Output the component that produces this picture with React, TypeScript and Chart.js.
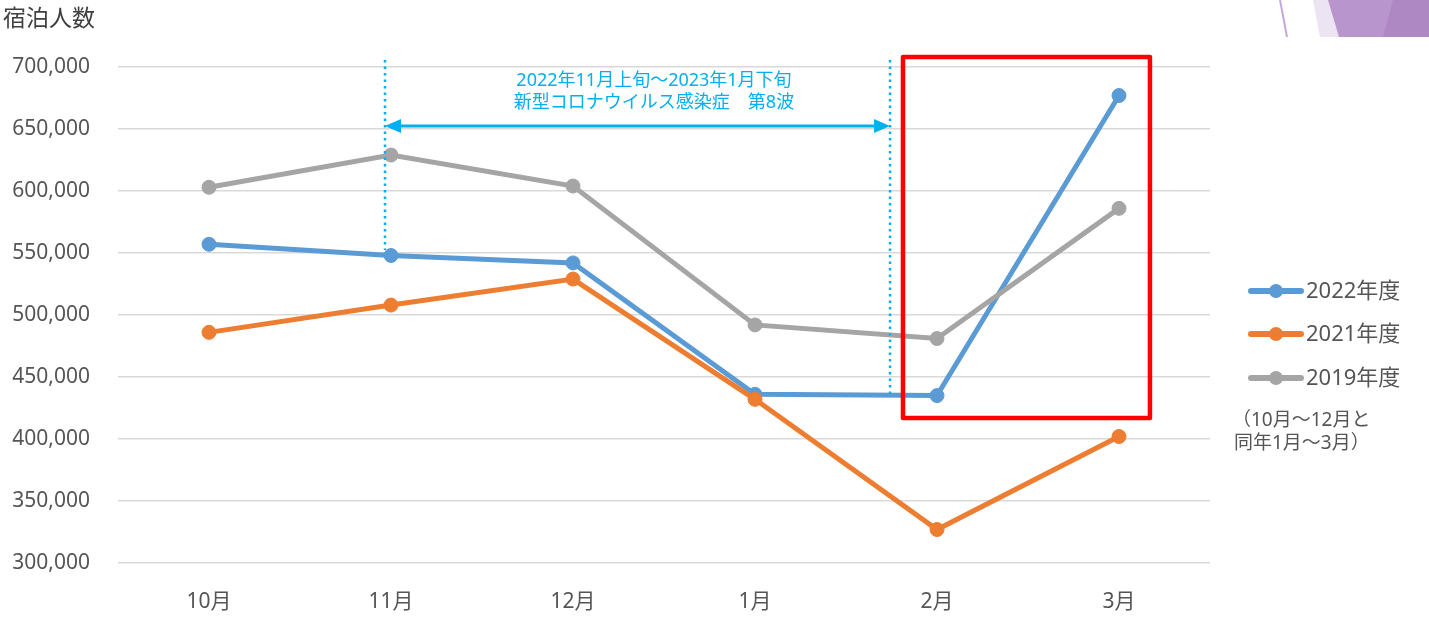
import React, { useEffect, useRef } from "react";
import { Chart, registerables } from "chart.js";

Chart.register(...registerables);

// ---- data ----
const months = ["10月", "11月", "12月", "1月", "2月", "3月"];
const fy2022 = [557000, 548000, 542000, 436000, 435000, 677000];
const fy2021 = [486000, 508000, 529000, 432000, 327000, 402000];
const fy2019 = [603000, 629000, 604000, 492000, 481000, 586000];
const seriesLabels = ["2022年度", "2021年度", "2019年度"];
const seriesColors = ["#5B9BD5", "#ED7D31", "#A5A5A5"];
const yMin = 300000;
const yMax = 700000;
const yStep = 50000;
const yTitle = "宿泊人数";
const waveText = ["2022年11月上旬～2023年1月下旬", "新型コロナウイルス感染症　第8波"];
const noteText = ["（10月～12月と", "同年1月～3月）"];

// annotation anchors in data units (category index, value)
const waveStartX = 0.967;
const waveEndX = 3.742;
const waveTopY = 705600;
const waveStartBottomY = 552400;
const waveEndBottomY = 433900;
const arrowY = 652400;
const waveTextX = 2.445;
const waveTextY = [688700, 671000];
const boxX = [3.813, 5.17];
const boxY = [708000, 416900];

const FONT = "'Noto Sans', 'Noto Sans CJK JP', sans-serif";
const TEXT = "#555555";
const CYAN = "#00B0F0";

const overlayPlugin = {
  id: "overlay",
  afterDatasetsDraw(chart: any) {
    const ctx = chart.ctx as CanvasRenderingContext2D;
    const xs = chart.scales.x;
    const ys = chart.scales.y;
    const px = (v: number) => xs.getPixelForValue(v);
    const py = (v: number) => ys.getPixelForValue(v);
    ctx.save();
    // dotted verticals
    ctx.strokeStyle = CYAN;
    ctx.lineWidth = 2.5;
    ctx.setLineDash([2.5, 4]);
    ctx.beginPath();
    ctx.moveTo(px(waveStartX), py(waveTopY));
    ctx.lineTo(px(waveStartX), py(waveStartBottomY));
    ctx.moveTo(px(waveEndX), py(waveTopY));
    ctx.lineTo(px(waveEndX), py(waveEndBottomY));
    ctx.stroke();
    ctx.setLineDash([]);
    // double arrow
    const ax1 = px(waveStartX);
    const ax2 = px(waveEndX);
    const ay = py(arrowY);
    const head = 16;
    const hw = 7;
    ctx.lineWidth = 3;
    ctx.beginPath();
    ctx.moveTo(ax1 + head - 2, ay);
    ctx.lineTo(ax2 - head + 2, ay);
    ctx.stroke();
    ctx.fillStyle = CYAN;
    ctx.beginPath();
    ctx.moveTo(ax1, ay);
    ctx.lineTo(ax1 + head, ay - hw);
    ctx.lineTo(ax1 + head, ay + hw);
    ctx.closePath();
    ctx.fill();
    ctx.beginPath();
    ctx.moveTo(ax2, ay);
    ctx.lineTo(ax2 - head, ay - hw);
    ctx.lineTo(ax2 - head, ay + hw);
    ctx.closePath();
    ctx.fill();
    // wave text
    ctx.font = `18px ${FONT}`;
    ctx.textAlign = "center";
    ctx.textBaseline = "middle";
    waveText.forEach((t, i) => ctx.fillText(t, px(waveTextX), py(waveTextY[i])));
    // red box
    ctx.strokeStyle = "#FF0000";
    ctx.lineWidth = 4.5;
    ctx.lineJoin = "round";
    ctx.strokeRect(px(boxX[0]), py(boxY[0]), px(boxX[1]) - px(boxX[0]), py(boxY[1]) - py(boxY[0]));
    ctx.restore();
  },
  afterDraw(chart: any) {
    const ctx = chart.ctx as CanvasRenderingContext2D;
    ctx.save();
    // title
    ctx.fillStyle = "#404040";
    ctx.font = `23px ${FONT}`;
    ctx.textAlign = "left";
    ctx.textBaseline = "middle";
    ctx.fillText(yTitle, 3, 19);
    // legend
    const rows = [291, 334, 378];
    seriesLabels.forEach((lab, i) => {
      const y = rows[i];
      ctx.strokeStyle = seriesColors[i];
      ctx.fillStyle = seriesColors[i];
      ctx.lineWidth = 6;
      ctx.lineCap = "round";
      ctx.beginPath();
      ctx.moveTo(1251, y);
      ctx.lineTo(1301, y);
      ctx.stroke();
      ctx.beginPath();
      ctx.arc(1276, y, 7, 0, Math.PI * 2);
      ctx.fill();
      ctx.fillStyle = TEXT;
      ctx.font = `22px ${FONT}`;
      ctx.textAlign = "left";
      ctx.textBaseline = "middle";
      ctx.fillText(lab, 1306, y + 1);
    });
    ctx.font = `19px ${FONT}`;
    ctx.fillStyle = TEXT;
    ctx.fillText(noteText[0], 1232, 421);
    ctx.fillText(noteText[1], 1234, 444);
    // decorative corner shapes
    ctx.strokeStyle = "#C4A8DA";
    ctx.lineWidth = 2;
    ctx.lineCap = "butt";
    ctx.beginPath();
    ctx.moveTo(1280, 0);
    ctx.lineTo(1287, 37);
    ctx.stroke();
    ctx.fillStyle = "#EDE4F3";
    ctx.beginPath();
    ctx.moveTo(1313, 0);
    ctx.lineTo(1429, 0);
    ctx.lineTo(1429, 37);
    ctx.lineTo(1320, 37);
    ctx.closePath();
    ctx.fill();
    ctx.fillStyle = "#B995CD";
    ctx.beginPath();
    ctx.moveTo(1328, 0);
    ctx.lineTo(1429, 0);
    ctx.lineTo(1429, 37);
    ctx.lineTo(1339, 37);
    ctx.closePath();
    ctx.fill();
    ctx.fillStyle = "#AD88C3";
    ctx.beginPath();
    ctx.moveTo(1393, 0);
    ctx.lineTo(1429, 0);
    ctx.lineTo(1429, 37);
    ctx.lineTo(1383, 37);
    ctx.closePath();
    ctx.fill();
    ctx.restore();
  },
};

export default function App() {
  const ref = useRef<HTMLCanvasElement | null>(null);
  useEffect(() => {
    if (!ref.current) return;
    const mk = (label: string, data: number[], color: string) => ({
      label,
      data,
      borderColor: color,
      backgroundColor: color,
      borderWidth: 5,
      pointRadius: 7,
      pointBorderWidth: 1,
      pointBackgroundColor: color,
      pointBorderColor: color,
      tension: 0,
    });
    const chart = new Chart(ref.current, {
      type: "line",
      data: {
        labels: months,
        datasets: [
          mk(seriesLabels[2], fy2019, seriesColors[2]),
          mk(seriesLabels[1], fy2021, seriesColors[1]),
          mk(seriesLabels[0], fy2022, seriesColors[0]),
        ],
      },
      options: {
        responsive: false,
        animation: false,
        devicePixelRatio: 1,
        layout: { padding: { top: 67, right: 219, left: 0, bottom: 0 } },
        plugins: { legend: { display: false }, tooltip: { enabled: false } },
        scales: {
          x: {
            type: "category",
            offset: true,
            grid: { display: false, drawTicks: false },
            border: { display: false },
            ticks: { color: TEXT, font: { family: FONT, size: 21 }, padding: 26 },
            afterFit: (s: any) => {
              s.height = 73;
            },
          },
          y: {
            min: yMin,
            max: yMax,
            grid: { color: "#D9D9D9", lineWidth: 1.5, drawTicks: false },
            border: { display: false },
            ticks: {
              stepSize: yStep,
              color: TEXT,
              font: { family: FONT, size: 21 },
              padding: 28,
              callback: (v: any) => Number(v).toLocaleString("en-US"),
            },
            afterFit: (s: any) => {
              s.width = 118;
            },
          },
        },
      },
      plugins: [overlayPlugin],
    });
    return () => chart.destroy();
  }, []);
  return (
    <div style={{ position: "fixed", left: 0, top: 0, width: 1429, height: 636, background: "#fff" }}>
      <canvas ref={ref} width={1429} height={636} style={{ width: 1429, height: 636, display: "block" }} />
    </div>
  );
}
